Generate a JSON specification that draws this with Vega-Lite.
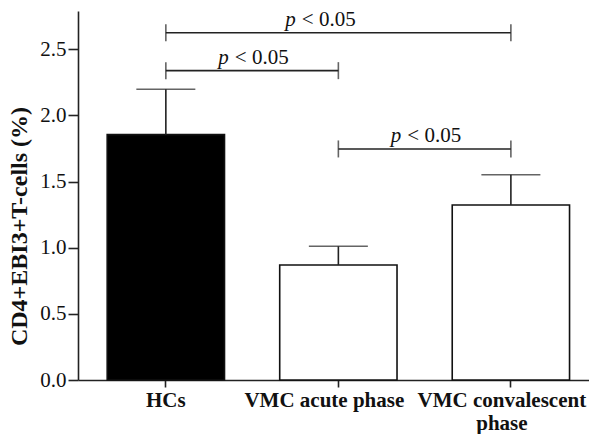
{
  "$schema": "https://vega.github.io/schema/vega-lite/v6.json",
  "width": 511,
  "height": 369,
  "autosize": {"type": "none"},
  "padding": {"left": 78, "top": 11, "right": 0, "bottom": 54},
  "background": "white",
  "config": {"view": {"stroke": null}, "font": "Liberation Serif"},
  "datasets": {
    "bars": [
      {"group": "HCs", "mean": 1.855, "upper": 2.198},
      {"group": "VMC acute phase", "mean": 0.87, "upper": 1.011},
      {"group": "VMC convalescent phase", "mean": 1.323, "upper": 1.552}
    ],
    "brackets": [
      {"from": "HCs", "to": "VMC convalescent phase", "y": 2.626, "span": "wide"},
      {"from": "HCs", "to": "VMC acute phase", "y": 2.339, "span": "narrow"},
      {"from": "VMC acute phase", "to": "VMC convalescent phase", "y": 1.747, "span": "narrow"}
    ]
  },
  "layer": [
    {
      "data": {"name": "bars"},
      "mark": {"type": "bar", "stroke": "#111", "strokeWidth": 1.6},
      "encoding": {
        "x": {
          "field": "group", "type": "nominal", "sort": null, "title": null,
          "scale": {"domain": ["HCs", "VMC acute phase", "VMC convalescent phase"], "paddingInner": 0.32, "paddingOuter": 0.141, "align": 0.6},
          "axis": {
            "labelAngle": 0, "labelFont": "Liberation Serif", "labelFontWeight": "bold", "labelFontSize": 21,
            "labelColor": "#111", "labelPadding": 2, "labelLineHeight": 23, "labelLimit": 400,
            "labelOffset": {"condition": [{"test": "datum.value == 'VMC acute phase'", "value": -14}, {"test": "datum.value == 'VMC convalescent phase'", "value": -9}], "value": 0},
            "labelExpr": "datum.label == 'VMC convalescent phase' ? ['VMC convalescent', 'phase'] : datum.label",
            "domainColor": "#222", "domainWidth": 1.6, "tickColor": "#222", "tickWidth": 1.6, "tickSize": 7, "grid": false
          }
        },
        "y": {
          "field": "mean", "type": "quantitative", "title": "CD4+EBI3+T-cells (%)",
          "scale": {"domain": [0, 2.79], "nice": false},
          "axis": {
            "titleFont": "Liberation Serif", "titleFontWeight": "bold", "titleFontSize": 24,
            "titleColor": "#111", "titlePadding": 8, "titleY": 215,
            "values": [0, 0.5, 1, 1.5, 2, 2.5], "format": ".1f",
            "labelFont": "Liberation Serif", "labelFontSize": 21, "labelColor": "#111", "labelPadding": 2,
            "domainColor": "#222", "domainWidth": 1.6, "tickColor": "#222", "tickWidth": 1.6, "tickSize": 10, "grid": false
          }
        },
        "fill": {
          "field": "group", "type": "nominal", "legend": null,
          "scale": {"domain": ["HCs", "VMC acute phase", "VMC convalescent phase"], "range": ["#000000", "#ffffff", "#ffffff"]}
        }
      }
    },
    {
      "data": {"name": "bars"},
      "mark": {"type": "rule", "color": "#222", "strokeWidth": 1.6},
      "encoding": {
        "x": {"field": "group", "type": "nominal", "sort": null, "title": null},
        "y": {"field": "mean", "type": "quantitative", "title": "CD4+EBI3+T-cells (%)"},
        "y2": {"field": "upper"}
      }
    },
    {
      "data": {"name": "bars"},
      "mark": {"type": "tick", "color": "#222", "thickness": 1.6, "size": 59},
      "encoding": {
        "x": {"field": "group", "type": "nominal", "sort": null, "title": null},
        "y": {"field": "upper", "type": "quantitative", "title": "CD4+EBI3+T-cells (%)"}
      }
    },
    {
      "data": {"name": "brackets"},
      "mark": {"type": "rule", "color": "#222", "strokeWidth": 1.6},
      "encoding": {
        "x": {"field": "from", "type": "nominal", "title": null},
        "x2": {"field": "to"},
        "y": {"field": "y", "type": "quantitative", "title": "CD4+EBI3+T-cells (%)"}
      }
    },
    {
      "data": {"name": "brackets"},
      "mark": {"type": "tick", "orient": "vertical", "color": "#222", "thickness": 1.6, "size": 17},
      "encoding": {
        "x": {"field": "from", "type": "nominal", "title": null},
        "y": {"field": "y", "type": "quantitative", "title": "CD4+EBI3+T-cells (%)"}
      }
    },
    {
      "data": {"name": "brackets"},
      "mark": {"type": "tick", "orient": "vertical", "color": "#222", "thickness": 1.6, "size": 17},
      "encoding": {
        "x": {"field": "to", "type": "nominal", "title": null},
        "y": {"field": "y", "type": "quantitative", "title": "CD4+EBI3+T-cells (%)"}
      }
    },
    {
      "data": {"name": "brackets"},
      "transform": [{"filter": "datum.span == 'wide'"}],
      "mark": {"type": "text", "text": "p", "fontStyle": "italic", "align": "right", "baseline": "alphabetic", "dx": 130, "dy": -7, "fontSize": 21, "color": "#111"},
      "encoding": {
        "x": {"field": "from", "type": "nominal", "title": null},
        "y": {"field": "y", "type": "quantitative", "title": "CD4+EBI3+T-cells (%)"}
      }
    },
    {
      "data": {"name": "brackets"},
      "transform": [{"filter": "datum.span == 'wide'"}],
      "mark": {"type": "text", "text": "< 0.05", "align": "left", "baseline": "alphabetic", "dx": 136, "dy": -7, "fontSize": 21, "color": "#111"},
      "encoding": {
        "x": {"field": "from", "type": "nominal", "title": null},
        "y": {"field": "y", "type": "quantitative", "title": "CD4+EBI3+T-cells (%)"}
      }
    },
    {
      "data": {"name": "brackets"},
      "transform": [{"filter": "datum.span == 'narrow'"}],
      "mark": {"type": "text", "text": "p", "fontStyle": "italic", "align": "right", "baseline": "alphabetic", "dx": 63, "dy": -7, "fontSize": 21, "color": "#111"},
      "encoding": {
        "x": {"field": "from", "type": "nominal", "title": null},
        "y": {"field": "y", "type": "quantitative", "title": "CD4+EBI3+T-cells (%)"}
      }
    },
    {
      "data": {"name": "brackets"},
      "transform": [{"filter": "datum.span == 'narrow'"}],
      "mark": {"type": "text", "text": "< 0.05", "align": "left", "baseline": "alphabetic", "dx": 69, "dy": -7, "fontSize": 21, "color": "#111"},
      "encoding": {
        "x": {"field": "from", "type": "nominal", "title": null},
        "y": {"field": "y", "type": "quantitative", "title": "CD4+EBI3+T-cells (%)"}
      }
    },
    {
      "mark": {"type": "rule", "color": "#222", "strokeWidth": 1.6},
      "encoding": {"y": {"datum": 2.79, "type": "quantitative", "title": "CD4+EBI3+T-cells (%)"}}
    }
  ]
}
